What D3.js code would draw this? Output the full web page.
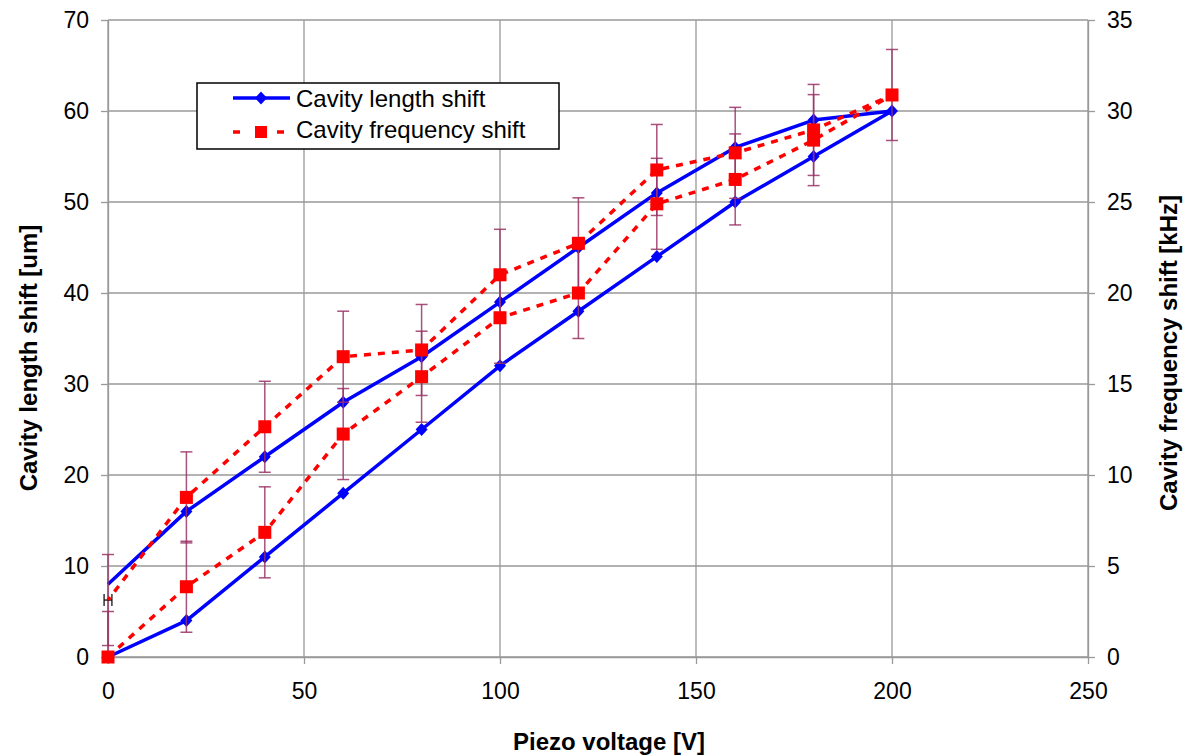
<!DOCTYPE html>
<html><head><meta charset="utf-8">
<script src="https://cdn.jsdelivr.net/npm/d3@7"></script>
<style>body{margin:0;background:#fff}svg{display:block;font-family:"Liberation Sans",Arial,sans-serif}</style>
</head><body><svg id="c" width="1187" height="756"></svg>
<script>
// Data (hysteresis loop: up sweep then down sweep)
const voltage = [0,20,40,60,80,100,120,140,160,180,200,180,160,140,120,100,80,60,40,20,0];
const lengthShift = [0,4,11,18,25,32,38,44,50,55,60,59,56,51,45,39,33,28,22,16,8]; // um
const freqShift = [0,3.86,6.85,12.25,15.4,18.64,20,24.9,26.24,28.4,30.88,28.96,27.7,26.76,22.73,21,16.87,16.5,12.65,8.77,3.13]; // kHz
const freqErr = [2.5,2.5,2.5,2.5,2.5,2.5,2.5,2.5,2.5,2.5,2.5,2.5,2.5,2.5,2.5,2.5,2.5,2.5,2.5,2.5,2.5]; // kHz
const voltErr = 1; // V
const xTicks = [0,50,100,150,200,250];
const yLTicks = [0,10,20,30,40,50,60,70];
const yRTicks = [0,5,10,15,20,25,30,35];
const seriesNames = ["Cavity length shift","Cavity frequency shift"];

const svg = d3.select("#c");
const x = d3.scaleLinear().domain([0,250]).range([108,1088]);
const yL = d3.scaleLinear().domain([0,70]).range([657,20]);
const yR = d3.scaleLinear().domain([0,35]).range([657,20]);
const gridCol = "#999";

// grid
svg.append("g").selectAll("line").data(yLTicks).join("line")
  .attr("x1",x(0)).attr("x2",x(250)).attr("y1",d=>yL(d)).attr("y2",d=>yL(d))
  .attr("stroke",gridCol).attr("stroke-width",1.3);
svg.append("g").selectAll("line").data(xTicks).join("line")
  .attr("y1",yL(0)).attr("y2",yL(70)).attr("x1",d=>x(d)).attr("x2",d=>x(d))
  .attr("stroke",gridCol).attr("stroke-width",1.3);

function styleAxis(g){
  g.select(".domain").attr("stroke",gridCol).attr("stroke-width",1.3);
  g.selectAll(".tick line").attr("stroke",gridCol).attr("stroke-width",1.3);
  g.selectAll(".tick text").attr("fill","#000").style("font-size","23px").style("font-family","Liberation Sans, Arial, sans-serif");
}
svg.append("g").attr("transform",`translate(0,${yL(0)})`)
  .call(d3.axisBottom(x).tickValues(xTicks).tickSize(7).tickSizeOuter(0).tickPadding(19))
  .call(styleAxis);
svg.append("g").attr("transform",`translate(${x(0)},0)`)
  .call(d3.axisLeft(yL).tickValues(yLTicks).tickSize(7).tickSizeOuter(0).tickPadding(12))
  .call(styleAxis);
svg.append("g").attr("transform",`translate(${x(250)},0)`)
  .call(d3.axisRight(yR).tickValues(yRTicks).tickSize(7).tickSizeOuter(0).tickPadding(12))
  .call(styleAxis);

// titles
svg.append("text").attr("x",609).attr("y",750).attr("text-anchor","middle")
  .style("font-size","24px").style("font-weight","bold").text("Piezo voltage [V]");
svg.append("text").attr("transform","translate(37,358) rotate(-90)").attr("text-anchor","middle")
  .style("font-size","24px").style("font-weight","bold").text("Cavity length shift [um]");
svg.append("text").attr("transform","translate(1177,353) rotate(-90)").attr("text-anchor","middle")
  .style("font-size","24px").style("font-weight","bold").text("Cavity frequency shift [kHz]");

const idx = d3.range(voltage.length);
const blue = "#0000ff", red = "#ff0000", errCol = "#993366";
const diamondPath = "M0,-6.5L6,0L0,6.5L-6,0Z";

// blue line
svg.append("path").datum(idx)
  .attr("d", d3.line().x(i=>x(voltage[i])).y(i=>yL(lengthShift[i])))
  .attr("fill","none").attr("stroke",blue).attr("stroke-width",3.5).attr("stroke-linejoin","round");
svg.append("g").selectAll("path").data(idx.slice(0,-1)).join("path")
  .attr("d",diamondPath).attr("transform",i=>`translate(${x(voltage[i])},${yL(lengthShift[i])})`)
  .attr("fill",blue);

// error bars (frequency series, right axis)
const eg = svg.append("g").attr("stroke",errCol).attr("stroke-width",1.5).attr("stroke-opacity",0.85);
idx.forEach(i=>{
  const cx = x(voltage[i]);
  const top = Math.max(yR(freqShift[i]+freqErr[i]), yR(35));
  const bot = Math.min(yR(freqShift[i]-freqErr[i]), yR(0));
  eg.append("line").attr("x1",cx).attr("x2",cx).attr("y1",top).attr("y2",bot);
  if (freqShift[i]+freqErr[i] <= 35) eg.append("line").attr("x1",cx-6).attr("x2",cx+6).attr("y1",top).attr("y2",top);
  if (freqShift[i]-freqErr[i] >= 0) eg.append("line").attr("x1",cx-6).attr("x2",cx+6).attr("y1",bot).attr("y2",bot);
  const cy = yR(freqShift[i]);
  const xl = Math.max(x(voltage[i]-voltErr), x(0)-4), xr = x(voltage[i]+voltErr);
  const hg = svg.append("g").attr("stroke","#000").attr("stroke-width",1.2);
  hg.append("line").attr("x1",xl).attr("x2",xr).attr("y1",cy).attr("y2",cy);
  hg.append("line").attr("x1",xl).attr("x2",xl).attr("y1",cy-6).attr("y2",cy+6);
  hg.append("line").attr("x1",xr).attr("x2",xr).attr("y1",cy-6).attr("y2",cy+6);
});

// red dashed line
svg.append("path").datum(idx)
  .attr("d", d3.line().x(i=>x(voltage[i])).y(i=>yR(freqShift[i])))
  .attr("fill","none").attr("stroke",red).attr("stroke-width",3.5).attr("stroke-dasharray","7,7");
svg.append("g").selectAll("rect").data(idx.slice(0,-1)).join("rect")
  .attr("x",i=>x(voltage[i])-6.5).attr("y",i=>yR(freqShift[i])-6.5)
  .attr("width",13).attr("height",13).attr("fill",red);

// legend
const lg = svg.append("g");
lg.append("rect").attr("x",197).attr("y",83).attr("width",362).attr("height",66)
  .attr("fill","#fff").attr("stroke","#000").attr("stroke-width",1.5);
lg.append("line").attr("x1",233).attr("x2",290).attr("y1",98).attr("y2",98).attr("stroke",blue).attr("stroke-width",3.5);
lg.append("path").attr("d",diamondPath).attr("transform","translate(261,98)").attr("fill",blue);
lg.append("line").attr("x1",233).attr("x2",290).attr("y1",132).attr("y2",132).attr("stroke",red)
  .attr("stroke-width",3.5).attr("stroke-dasharray","7,15");
lg.append("rect").attr("x",255).attr("y",126).attr("width",12).attr("height",12).attr("fill",red);
lg.selectAll("text").data(seriesNames).join("text")
  .attr("x",296).attr("y",(d,i)=>107+i*31).style("font-size","24px").text(d=>d);
</script></body></html>
